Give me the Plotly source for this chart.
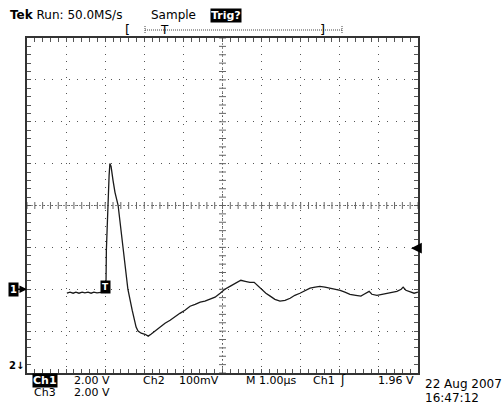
import plotly.graph_objects as go
import numpy as np

# ---- data (Ch1 trace: time in microseconds, voltage in volts) ----
time_us = [1.02, 1.10, 1.18, 1.25, 1.33, 1.41, 1.48, 1.56, 1.64, 1.71, 1.79, 1.87, 1.94, 2.01,
           2.02, 2.03, 2.06, 2.10, 2.12, 2.15, 2.20, 2.25, 2.33, 2.40, 2.48, 2.58, 2.69, 2.79, 2.84, 2.92, 3.02, 3.10,
           3.17, 3.27, 3.40, 3.53, 3.66, 3.79, 3.91, 4.04, 4.17, 4.30, 4.43, 4.55, 4.68, 4.81, 4.94,
           5.06, 5.19, 5.32, 5.47, 5.58, 5.70, 5.81, 5.91, 6.01, 6.11, 6.22, 6.34, 6.47, 6.60, 6.73,
           6.85, 6.98, 7.11, 7.24, 7.37, 7.49, 7.62, 7.75, 7.88, 8.01, 8.13, 8.26, 8.41, 8.54, 8.62,
           8.70, 8.75, 8.82, 8.95, 9.08, 9.21, 9.34, 9.46, 9.57, 9.62, 9.69, 9.80, 9.90, 10.0]
volts = [-0.19, -0.14, -0.19, -0.14, -0.19, -0.14, -0.17, -0.14, -0.19, -0.14, -0.17, -0.14, -0.14, -0.14,
         0.19, 1.86, 3.77, 5.44, 6.01, 5.87, 5.20, 4.63, 4.01, 2.82, 1.62, 0.00, -1.00, -1.81, -2.00, -2.10, -2.15, -2.24,
         -2.15, -2.00, -1.81, -1.62, -1.48, -1.29, -1.15, -1.00, -0.81, -0.72, -0.62, -0.57, -0.48, -0.38, -0.19,
         0.00, 0.14, 0.29, 0.43, 0.38, 0.33, 0.33, 0.14, -0.05, -0.19, -0.33, -0.48, -0.57, -0.53, -0.43,
         -0.29, -0.19, -0.05, 0.05, 0.10, 0.14, 0.10, 0.05, 0.00, -0.05, -0.14, -0.24, -0.29, -0.33, -0.24,
         -0.14, -0.10, -0.24, -0.29, -0.24, -0.19, -0.14, -0.10, 0.00, 0.10, -0.05, -0.14, -0.19, -0.14]

x_range = [0, 10]      # 10 divisions x 1.00 us
y_range = [-4, 12]     # 8 divisions x 2.00 V
trigger_level = 1.96
ground_level = 0.0
trigger_time = 2.02

# ---- layout geometry (pixels) ----
W, H = 504, 405
L, R, T, B = 27, 418, 38, 373


def pxx(xp):
    return (xp - L) / (R - L)


def pxy(yp):
    return (B - yp) / (B - T)


FONT = "DejaVu Sans"
fig = go.Figure()

# center crosshair tick marks
cx = (x_range[0] + x_range[1]) / 2
cy = (y_range[0] + y_range[1]) / 2
fig.add_trace(go.Scatter(x=np.arange(x_range[0], x_range[1] + 1e-9, 0.2), y=[cy] * 51,
                         mode="markers", marker=dict(symbol="line-ns", size=5, line=dict(width=1, color="#666")),
                         hoverinfo="skip", showlegend=False))
fig.add_trace(go.Scatter(x=[cx] * 41, y=np.arange(y_range[0], y_range[1] + 1e-9, 0.4),
                         mode="markers", marker=dict(symbol="line-ew", size=5, line=dict(width=1, color="#666")),
                         hoverinfo="skip", showlegend=False))

# signal
fig.add_trace(go.Scatter(x=time_us, y=volts, mode="lines",
                         line=dict(color="#1a1a1a", width=1.3), showlegend=False, hoverinfo="skip"))

fig.add_shape(type="line", xref="x", yref="y", x0=cx, x1=cx, y0=y_range[0], y1=y_range[1],
              line=dict(color="#888", width=1, dash="2px,2px"), layer="below")
fig.add_shape(type="line", xref="x", yref="y", x0=x_range[0], x1=x_range[1], y0=cy, y1=cy,
              line=dict(color="#888", width=1, dash="2px,2px"), layer="below")

# top record bracket
ybr = pxy(30)
fig.add_shape(type="line", xref="paper", yref="paper", x0=pxx(145), x1=pxx(342), y0=ybr, y1=ybr,
              line=dict(color="#444", width=1, dash="1px,1px"))
for xe in (145, 342):
    fig.add_shape(type="line", xref="paper", yref="paper", x0=pxx(xe), x1=pxx(xe), y0=pxy(26), y1=pxy(34),
                  line=dict(color="#444", width=1, dash="1px,1px"))

ann = []


def text(t, xp, yp, size=12, color="black", bg=None, bold=False, anchor="left"):
    ann.append(dict(text=(f"<b>{t}</b>" if bold else t), x=pxx(xp), y=pxy(yp), xref="paper", yref="paper",
                    xanchor=anchor, yanchor="middle", showarrow=False,
                    font=dict(family=FONT, size=size, color=color),
                    bgcolor=bg, borderpad=0))


text("<b>Tek</b> Run: 50.0MS/s", 9, 15, size=12)
text("Sample", 150, 15, size=12)
text("Trig?", 210, 15, size=11, color="white", bg="black", bold=True)
text("[", 124, 30, size=13)
text("T", 159, 30, size=12)
text("]", 319, 30, size=13)

text("2↓", 8, 365, size=10, bold=True)

r1, r2 = 380, 392
text("Ch1", 32, r1, size=11, color="white", bg="black", bold=True)
text("2.00 V", 73, r1, size=11)
text("Ch2", 142, r1, size=11)
text("100mV", 178, r1, size=11)
text("M 1.00µs", 245, r1, size=11)
text("Ch1", 312, r1, size=11)
text("ʃ", 339, r1, size=12)
text("1.96 V", 377, r1, size=11)
text("Ch3", 33, r2, size=11)
text("2.00 V", 73, r2, size=11)
text("22 Aug 2007", 424, 384, size=12)
text("16:47:12", 424, 398, size=12)

# ground marker "1→"
ann.append(dict(text="<b>1</b>", x=0, y=ground_level, xref="paper", yref="y", ax=-14, ay=0,
                showarrow=True, arrowhead=2, arrowsize=1, arrowwidth=1.5, arrowcolor="black", standoff=0,
                font=dict(family=FONT, size=10, color="white"), bgcolor="black", borderpad=1))
# trigger level arrow at right edge
ann.append(dict(text="", x=pxx(411), y=trigger_level, xref="paper", yref="y", ax=8, ay=0,
                showarrow=True, arrowhead=2, arrowsize=1.2, arrowwidth=1.8, arrowcolor="black", standoff=0))
# trigger point marker
ann.append(dict(text="<b>T</b>", x=trigger_time - 0.02, y=0.12, xref="x", yref="y", showarrow=False,
                font=dict(family=FONT, size=9, color="white"), bgcolor="black", borderpad=1))

fig.update_layout(
    width=W, height=H, margin=dict(l=L, r=W - R, t=T, b=H - B),
    paper_bgcolor="white", plot_bgcolor="white",
    annotations=ann, showlegend=False,
    xaxis=dict(range=x_range, dtick=1, showticklabels=False, showgrid=True, gridcolor="#555",
               griddash="1px,6.82px", gridwidth=1, zeroline=False,
               showline=True, linecolor="#333", linewidth=2, mirror="ticks",
               ticks="inside", ticklen=4, tickcolor="#555", tickwidth=1,
               minor=dict(dtick=0.2, ticks="inside", ticklen=4, tickcolor="#555", showgrid=False)),
    yaxis=dict(range=y_range, dtick=2, showticklabels=False, showgrid=True, gridcolor="#555",
               griddash="1px,7.38px", gridwidth=1, zeroline=False,
               showline=True, linecolor="#333", linewidth=2, mirror="ticks",
               ticks="inside", ticklen=4, tickcolor="#555", tickwidth=1,
               minor=dict(dtick=0.4, ticks="inside", ticklen=4, tickcolor="#555", showgrid=False)),
)

fig.write_html("out.html")
